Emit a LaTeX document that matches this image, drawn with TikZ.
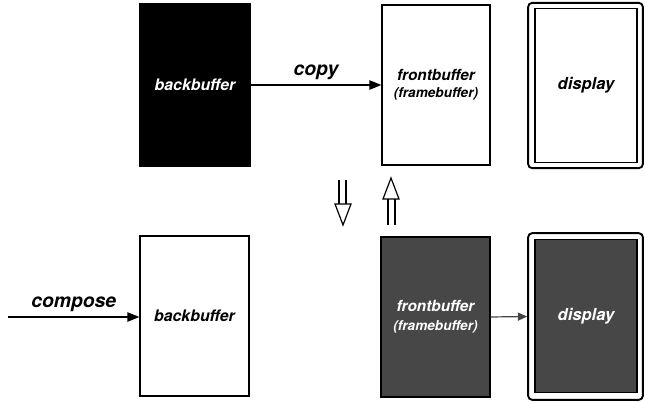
\documentclass[tikz,border=0pt]{standalone}
\usepackage{fontspec}
\setmainfont{TeX Gyre Heros}
\usetikzlibrary{arrows.meta}
\definecolor{darkbuf}{HTML}{474747}
\definecolor{arrowgray}{HTML}{444444}
\begin{document}
\begin{tikzpicture}[x=0.75pt,y=-0.75pt,
  buf/.style={draw=black,line width=0.9pt,rectangle,inner sep=0pt,
    minimum width=82pt,minimum height=120pt,align=center,font=\bfseries\itshape},
  dispouter/.style={draw=black,line width=1.4pt,rectangle,rounded corners=3pt,fill=white,
    inner sep=0pt,minimum width=86pt,minimum height=124pt},
  dispinner/.style={draw=black,line width=0.9pt,rectangle,inner sep=0pt,
    minimum width=76.5pt,minimum height=115pt,align=center,font=\bfseries\itshape},
  lbl/.style={font=\fontsize{14.5}{17}\selectfont\bfseries\itshape,inner sep=0pt},
  flow/.style={line width=0.9pt,-{Triangle[length=9pt,width=7pt]}},
  dflow/.style={line width=0.9pt,draw=arrowgray,-{Triangle[length=7pt,width=6pt,fill=arrowgray]}},
  hollow/.style={line width=0.9pt,draw=black,fill=white,line join=miter}
]
\useasboundingbox (0,0) rectangle (645,402);
% top row
\node[buf,fill=black,text=white,minimum width=82.5pt,minimum height=121.5pt,
  font=\fontsize{11.9}{14}\selectfont\bfseries\itshape] (bbtop) at (195,85) {backbuffer};
\node[buf,fill=white,minimum width=81pt,minimum height=120pt] (fbtop) at (436,85)
  {\fontsize{11.5}{13}\selectfont frontbuffer\\[0.5pt]\fontsize{10.2}{13}\selectfont (framebuffer)};
\node[dispouter,minimum height=124pt] (dtopo) at (585.5,85.5) {};
\node[dispinner,fill=white,font=\fontsize{12.4}{14}\selectfont\bfseries\itshape] (dtop) at (586,85.5) {display};
% bottom row
\node[buf,fill=white,minimum width=81.75pt,minimum height=120pt,
  font=\fontsize{11.9}{14}\selectfont\bfseries\itshape] (bbbot) at (194.5,316) {backbuffer};
\node[buf,fill=darkbuf,text=white,minimum width=81.75pt,minimum height=120pt] (fbbot) at (435.5,317)
  {\fontsize{11.5}{13}\selectfont frontbuffer\\[2.5pt]\fontsize{10.2}{13}\selectfont (framebuffer)};
\node[dispouter,minimum height=125pt] (dboto) at (585.5,316.5) {};
\node[dispinner,fill=darkbuf,text=white,font=\fontsize{12.4}{14}\selectfont\bfseries\itshape] (dbot) at (586,316) {display};
% connectors
\draw[flow] (bbtop.east) -- (fbtop.west) node[lbl,midway,above=3.5pt] {copy};
\coordinate (cstart) at (8,317);
\draw[flow] (cstart) -- (cstart -| bbbot.west) node[lbl,midway,above=3.5pt] {compose};
\draw[dflow] (fbbot.east) -- (dboto.west);
% hollow arrows
\coordinate (dtip) at (343,225);
\draw[hollow] (339,180) -- (339,204) (346,180) -- (346,204);
\draw[hollow] (335,204) -- (351,204) -- (dtip) -- cycle;
\coordinate (utip) at (391,178);
\draw[hollow] (388,199) -- (388,225) (395,199) -- (395,225);
\draw[hollow] (383,199) -- (399,199) -- (utip) -- cycle;
\end{tikzpicture}
\end{document}
